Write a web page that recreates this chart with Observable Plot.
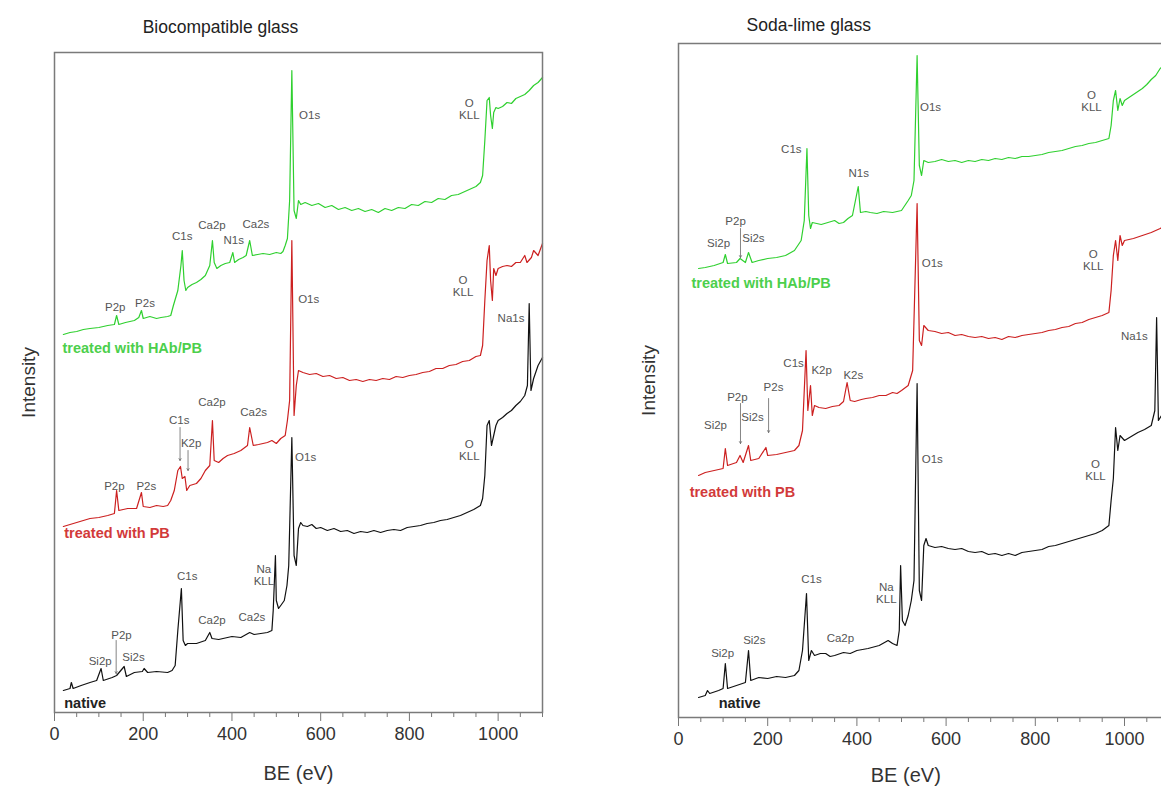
<!DOCTYPE html>
<html>
<head>
<meta charset="utf-8">
<script src="https://cdn.jsdelivr.net/npm/d3@7"></script>
<script src="https://cdn.jsdelivr.net/npm/@observablehq/plot@0.6"></script>
<style>
html, body { margin: 0; padding: 0; background: #fff; overflow: hidden; width: 1161px; height: 788px; }
#wrap { position: relative; width: 1161px; height: 788px; overflow: hidden; }
.panel { position: absolute; top: 0; }
</style>
</head>
<body>
<div id="wrap">
  <div class="panel" id="left" style="left:0;width:580px"></div>
  <div class="panel" id="right" style="left:600px;width:600px"></div>
</div>
<script>
// ---------- axis ticks ----------
const xMajor = [0, 200, 400, 600, 800, 1000];
const xMinor = [50, 100, 150, 250, 300, 350, 450, 500, 550, 650, 700, 750, 850, 900, 950, 1050, 1100];

// ---------- Biocompatible glass: [BE (eV), intensity (a.u.)] ----------
const bioHAbPB = [[20,378],[35,380],[50,381],[65,383],[80,384],[100,385],[120,387],[135,388],[140,397],[145,388],[160,390],[180,392],[190,395],[196,402],[200,394],[215,396],[230,394],[240,395],[255,396],[262,397],[268,407],[278,422],[285,447],[288,462],[292,432],[296,422],[300,425],[310,428],[320,430],[330,433],[340,437],[350,447],[356,472],[360,450],[366,444],[375,447],[385,449],[395,450],[402,460],[406,450],[415,453],[425,455],[432,457],[440,472],[446,457],[458,458],[470,459],[485,458],[500,460],[510,459],[515,461],[520,467],[525,474],[530,512],[535,642],[540,502],[545,494],[550,512],[555,508],[565,510],[580,507],[595,509],[610,505],[625,507],[640,503],[655,505],[670,502],[685,504],[700,501],[715,503],[730,500],[745,504],[760,502],[775,505],[790,504],[805,508],[820,507],[835,511],[850,510],[865,514],[880,513],[895,517],[910,518],[925,521],[940,524],[950,526],[960,530],[965,537],[970,572],[975,612],[980,615],[983,597],[987,584],[990,600],[995,605],[1000,604],[1010,606],[1020,610],[1030,609],[1040,614],[1050,616],[1060,618],[1070,622],[1080,627],[1090,630],[1100,635]];
const bioPB = [[20,186],[35,188],[50,190],[65,192],[80,194],[100,195],[120,197],[135,199],[140,222],[145,202],[165,204],[185,204],[196,220],[200,206],[215,205],[230,207],[245,206],[255,207],[262,212],[270,222],[278,242],[284,246],[288,234],[294,236],[298,222],[305,227],[320,229],[330,234],[340,242],[350,247],[356,292],[360,252],[370,250],[380,254],[390,257],[405,259],[420,262],[435,267],[440,285],[448,267],[460,268],[470,269],[480,270],[490,272],[500,269],[510,274],[520,277],[525,292],[530,312],[535,472],[540,297],[545,327],[550,342],[560,340],[575,338],[590,339],[605,336],[620,337],[635,334],[650,335],[665,332],[680,333],[695,331],[710,333],[725,332],[740,334],[755,333],[770,336],[785,335],[800,337],[815,338],[830,340],[845,341],[860,344],[875,344],[890,347],[905,348],[920,351],[935,352],[950,356],[960,357],[965,367],[970,412],[975,452],[980,467],[983,432],[987,412],[990,444],[995,437],[1000,444],[1010,446],[1020,447],[1030,446],[1040,450],[1050,450],[1060,457],[1065,450],[1075,455],[1080,462],[1090,457],[1100,469]];
const bioNative = [[20,22],[35,24],[38,30],[42,24],[60,27],[80,30],[95,32],[105,44],[110,32],[130,35],[140,37],[157,46],[162,36],[180,40],[198,41],[202,44],[210,40],[230,41],[255,40],[265,42],[272,47],[278,82],[286,124],[290,72],[295,67],[300,69],[320,69],[340,72],[350,80],[355,74],[370,73],[380,74],[400,76],[420,75],[440,80],[450,78],[465,79],[480,80],[490,82],[493,102],[498,157],[500,112],[505,104],[510,107],[518,112],[524,127],[528,147],[535,275],[540,157],[545,147],[550,184],[555,190],[560,187],[570,186],[580,188],[590,184],[600,185],[615,182],[630,184],[645,181],[660,182],[675,179],[690,181],[705,180],[720,182],[735,180],[750,182],[765,183],[780,182],[795,185],[810,186],[825,187],[840,189],[855,190],[870,192],[885,193],[900,195],[915,197],[930,200],[945,203],[960,207],[965,214],[970,237],[975,287],[980,292],[985,267],[990,277],[995,287],[1000,292],[1010,295],[1020,299],[1030,302],[1040,307],[1050,311],[1060,317],[1066,327],[1070,409],[1074,322],[1080,334],[1090,347],[1100,355]];

// peak labels: [text, BE, intensity]
const bioPeakLabels = [
  ["O1s",575,597],["O\nKLL",935,603],["C1s",288,476],["Ca2p",355,487],["N1s",404,472],["Ca2s",454,488],["P2p",137,405],["P2s",204,409],
  ["O1s",573,413],["O\nKLL",921,426],["Ca2p",355,310],["Ca2s",449,300],["C1s",281,292],["K2p",308,269],["P2p",135,226],["P2s",207,226],
  ["O1s",566,255],["O\nKLL",935,262],["Na1s",1029,394],["Na\nKLL",472,137],["C1s",299,136],["Ca2p",355,92],["Ca2s",445,95],["P2p",151,77],["Si2p",103,51],["Si2s",178,55]
];
// label arrows: [BE, intensity from, intensity to]
const bioArrows = [[283,285,252],[301,262,242],[139,72,39]];
// series names: [text, BE, intensity]
const bioSeriesLabels = [["treated with HAb/PB",18,364],["treated with PB",22,179],["native",22,9]];

// ---------- Soda-lime glass ----------
const sodaHAbPB = [[45,449],[60,450],[80,452],[100,455],[105,463],[110,454],[130,455],[138,459],[150,455],[157,465],[165,455],[180,457],[200,459],[220,460],[240,462],[260,467],[275,477],[282,497],[288,569],[292,502],[296,489],[300,495],[310,494],[320,493],[335,495],[350,497],[360,494],[370,495],[380,499],[390,502],[403,531],[408,505],[420,506],[430,505],[445,504],[460,506],[480,505],[500,507],[515,517],[522,522],[528,537],[535,662],[540,552],[545,542],[550,557],[560,555],[575,556],[590,558],[605,556],[620,557],[635,555],[650,557],[665,556],[680,558],[695,557],[710,559],[725,558],[740,560],[755,559],[770,561],[785,561],[800,562],[815,563],[830,565],[845,566],[860,567],[875,569],[890,571],[905,572],[920,574],[935,575],[950,577],[965,579],[970,592],[975,617],[980,627],[985,607],[990,619],[995,612],[1000,617],[1010,620],[1020,623],[1030,626],[1040,629],[1050,633],[1060,638],[1070,642],[1080,649],[1090,653],[1100,659]];
const sodaPB = [[45,242],[60,245],[80,247],[100,249],[105,269],[110,252],[130,255],[138,262],[145,255],[157,272],[162,257],[180,259],[196,270],[200,262],[220,263],[240,265],[260,267],[270,272],[278,287],[286,367],[290,307],[296,332],[300,302],[305,312],[315,310],[330,309],[345,311],[360,312],[370,316],[378,335],[385,317],[395,316],[410,318],[420,319],[435,320],[450,322],[465,322],[480,325],[490,324],[500,327],[515,332],[525,347],[535,514],[540,377],[545,372],[550,392],[560,387],[575,386],[590,384],[605,385],[620,382],[635,383],[650,381],[665,380],[680,381],[695,379],[710,380],[725,378],[740,381],[755,380],[770,382],[785,383],[800,384],[815,385],[830,387],[845,388],[860,390],[875,391],[890,394],[905,395],[920,398],[935,400],[950,402],[965,405],[970,427],[975,462],[980,477],[985,457],[990,482],[995,472],[1000,477],[1020,479],[1040,482],[1060,485],[1080,489],[1100,495]];
const sodaNative = [[45,20],[60,22],[65,27],[70,24],[90,27],[100,29],[105,54],[110,29],[130,32],[150,35],[157,67],[162,37],[180,40],[200,39],[220,41],[240,40],[260,42],[270,47],[278,67],[287,124],[292,57],[298,67],[305,62],[318,64],[330,64],[340,61],[350,62],[370,65],[385,64],[400,67],[425,69],[450,72],[470,77],[480,74],[490,72],[495,87],[498,152],[502,97],[508,92],[515,102],[522,117],[528,137],[535,334],[540,127],[545,117],[550,172],[555,179],[560,172],[575,170],[590,171],[605,169],[620,168],[635,169],[650,166],[665,165],[680,166],[695,163],[710,164],[725,162],[740,164],[755,162],[770,165],[785,166],[800,167],[815,168],[830,171],[845,172],[860,174],[875,176],[890,178],[905,180],[920,182],[935,184],[950,187],[965,192],[970,217],[975,239],[980,290],[985,267],[990,282],[1000,277],[1015,281],[1030,285],[1045,288],[1060,292],[1068,307],[1072,400],[1076,297],[1090,307],[1100,317]];

const sodaPeakLabels = [
  ["O1s",565,610],["O\nKLL",926,616],["C1s",253,568],["N1s",404,544],["P2p",128,496],["Si2p",90,474],["Si2s",168,479],
  ["O1s",569,454],["O\nKLL",930,457],["Na1s",1022,381],["C1s",258,354],["K2p",321,347],["K2s",392,342],["P2s",213,330],["P2p",132,320],["Si2s",166,300],["Si2p",83,292],
  ["O1s",569,258],["O\nKLL",935,247],["C1s",298,138],["Na\nKLL",466,124],["Ca2p",363,79],["Si2p",99,64],["Si2s",170,77]
];
const sodaArrows = [[139,489,460],[139,314,274],[202,319,285]];
const sodaSeriesLabels = [["treated with HAb/PB",29,434],["treated with PB",25,225],["native",90,14]];

const seriesColors = ["#2fd02f", "#cc2020", "#111111"];
const seriesLabelColors = ["#4ccf4c", "#d23a3a", "#222222"];

function toRows(arr) { return arr.map(([be, i]) => ({be, i})); }

function panel(cfg) {
  const font = "'Liberation Sans', Arial, sans-serif";
  const lines = cfg.series.map((s, k) =>
    Plot.line(toRows(s), {x: "be", y: "i", stroke: seriesColors[k], strokeWidth: 1.2, strokeLinejoin: "round"}));
  return Plot.plot({
    width: cfg.width, height: 788,
    marginLeft: cfg.ml, marginRight: cfg.mr, marginTop: cfg.mt, marginBottom: cfg.mb,
    style: {fontFamily: font, background: "white", overflow: "visible", maxWidth: "none"},
    x: {domain: [0, 1100], label: null},
    y: {domain: [0, cfg.yMax], axis: null},
    marks: [
      Plot.axisX({ticks: xMinor, tickSize: 5, tickFormat: () => "", stroke: "#777", label: null}),
      Plot.axisX({ticks: xMajor, tickSize: 9, tickPadding: 6, tickFormat: d => String(d), fontSize: 18, fill: "#333", stroke: "#777", label: null}),
      ...lines,
      Plot.text(cfg.peaks, {x: d => d[1], y: d => d[2], text: d => d[0], fontSize: 11.5, fill: "#555", lineHeight: 1.05}),
      Plot.arrow(cfg.arrows, {x1: d => d[0], x2: d => d[0], y1: d => d[1], y2: d => d[2], stroke: "#666", strokeWidth: 0.8, headLength: 4}),
      Plot.text(cfg.names, {x: d => d[1], y: d => d[2], text: d => d[0], textAnchor: "start", fontSize: 14.5,
        fontWeight: "bold", fill: (d, i) => seriesLabelColors[i]}),
      Plot.frame({stroke: "#7a7a7a", strokeWidth: 1.5}),
      Plot.text([cfg.title], {frameAnchor: "top", dx: cfg.titleDx, dy: cfg.titleDy, fontSize: 17.5, fill: "#222"}),
      Plot.text(["BE (eV)"], {frameAnchor: "bottom", dx: cfg.xlDx, dy: cfg.xlDy, fontSize: 20, fill: "#333"}),
      Plot.text(["Intensity"], {frameAnchor: "left", textAnchor: "middle", rotate: -90, dx: cfg.ylDx, fontSize: 19, fill: "#333"})
    ]
  });
}

document.getElementById("left").appendChild(panel({
  width: 580, ml: 54, mr: 38, mt: 52, mb: 76, yMax: 660,
  series: [bioHAbPB, bioPB, bioNative], peaks: bioPeakLabels, arrows: bioArrows, names: bioSeriesLabels,
  title: "Biocompatible glass", titleDx: -78, titleDy: -32, xlDx: 0, xlDy: 67, ylDx: -26
}));
document.getElementById("right").appendChild(panel({
  width: 600, ml: 78, mr: 31.4, mt: 43, mb: 71, yMax: 674,
  series: [sodaHAbPB, sodaPB, sodaNative], peaks: sodaPeakLabels, arrows: sodaArrows, names: sodaSeriesLabels,
  title: "Soda-lime glass", titleDx: -115, titleDy: -25, xlDx: -18, xlDy: 64, ylDx: -30
}));
</script>
</body>
</html>
